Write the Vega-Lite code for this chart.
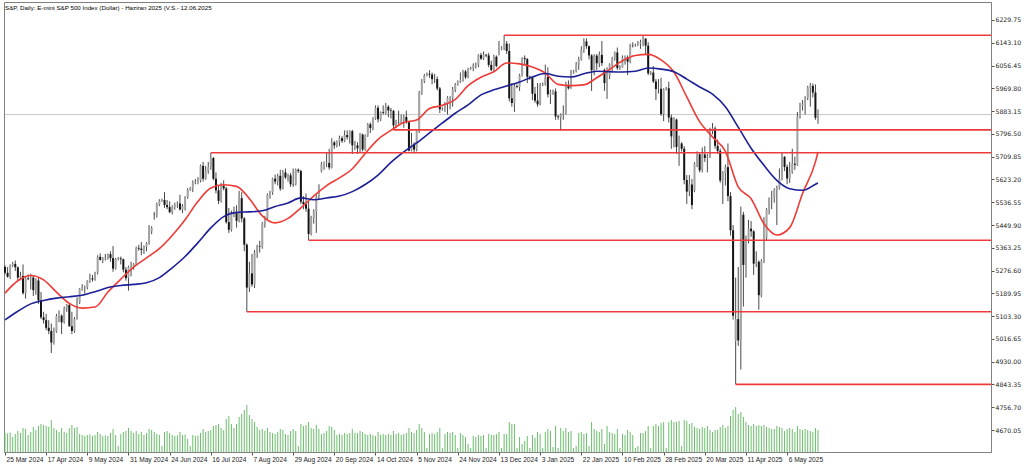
{
"$schema": "https://vega.github.io/schema/vega-lite/v6.json",
"width": 987, "height": 450,
"autosize": {"type": "none"},
"padding": {"left": 4, "top": 2, "right": 33, "bottom": 18},
"background": "#ffffff",
"config": {"view": {"stroke": "#808080", "strokeWidth": 1}, "font": "Liberation Sans"},
"title": {"text": "S&P, Daily:  E-mini S&P 500 Index (Dollar) -  Haziran 2025 (V.S.- 12.06.2025", "anchor": "start", "frame": "group", "orient": "top", "offset": -9, "dx": 1, "fontSize": 6.2, "fontWeight": "normal", "font": "Liberation Sans", "color": "#000000"},
"datasets": {
"bars": [
{"d":"2024-03-25","o":5290,"h":5297,"l":5262,"c":5268,"v":190000},
{"d":"2024-03-26","o":5268,"h":5290,"l":5250,"c":5253,"v":185000},
{"d":"2024-03-27","o":5253,"h":5300,"l":5245,"c":5297,"v":195000},
{"d":"2024-03-28","o":5297,"h":5310,"l":5290,"c":5302,"v":150000},
{"d":"2024-04-01","o":5302,"h":5315,"l":5275,"c":5289,"v":180000},
{"d":"2024-04-02","o":5289,"h":5292,"l":5238,"c":5250,"v":210000},
{"d":"2024-04-03","o":5250,"h":5272,"l":5240,"c":5256,"v":190000},
{"d":"2024-04-04","o":5256,"h":5300,"l":5185,"c":5191,"v":240000},
{"d":"2024-04-05","o":5191,"h":5256,"l":5170,"c":5247,"v":230000},
{"d":"2024-04-08","o":5247,"h":5262,"l":5240,"c":5244,"v":170000},
{"d":"2024-04-09","o":5244,"h":5265,"l":5205,"c":5250,"v":200000},
{"d":"2024-04-10","o":5250,"h":5258,"l":5180,"c":5202,"v":250000},
{"d":"2024-04-11","o":5202,"h":5247,"l":5185,"c":5239,"v":220000},
{"d":"2024-04-12","o":5239,"h":5250,"l":5150,"c":5163,"v":260000},
{"d":"2024-04-15","o":5163,"h":5195,"l":5092,"c":5099,"v":280000},
{"d":"2024-04-16","o":5099,"h":5120,"l":5075,"c":5088,"v":270000},
{"d":"2024-04-17","o":5088,"h":5112,"l":5050,"c":5059,"v":260000},
{"d":"2024-04-18","o":5059,"h":5088,"l":5035,"c":5047,"v":250000},
{"d":"2024-04-19","o":5047,"h":5075,"l":4963,"c":5003,"v":320000},
{"d":"2024-04-22","o":5003,"h":5060,"l":4995,"c":5044,"v":240000},
{"d":"2024-04-23","o":5044,"h":5112,"l":5040,"c":5104,"v":220000},
{"d":"2024-04-24","o":5104,"h":5125,"l":5080,"c":5105,"v":200000},
{"d":"2024-04-25","o":5105,"h":5110,"l":5035,"c":5080,"v":240000},
{"d":"2024-04-26","o":5080,"h":5140,"l":5075,"c":5131,"v":200000},
{"d":"2024-04-29","o":5131,"h":5150,"l":5120,"c":5146,"v":190000},
{"d":"2024-04-30","o":5146,"h":5150,"l":5063,"c":5065,"v":240000},
{"d":"2024-05-01","o":5065,"h":5120,"l":5035,"c":5047,"v":270000},
{"d":"2024-05-02","o":5047,"h":5100,"l":5040,"c":5092,"v":240000},
{"d":"2024-05-03","o":5092,"h":5175,"l":5090,"c":5156,"v":250000},
{"d":"2024-05-06","o":5156,"h":5210,"l":5150,"c":5207,"v":180000},
{"d":"2024-05-07","o":5207,"h":5225,"l":5200,"c":5212,"v":170000},
{"d":"2024-05-08","o":5212,"h":5220,"l":5190,"c":5213,"v":160000},
{"d":"2024-05-09","o":5213,"h":5240,"l":5205,"c":5238,"v":170000},
{"d":"2024-05-10","o":5238,"h":5265,"l":5230,"c":5247,"v":175000},
{"d":"2024-05-13","o":5247,"h":5260,"l":5235,"c":5243,"v":160000},
{"d":"2024-05-14","o":5243,"h":5272,"l":5238,"c":5269,"v":170000},
{"d":"2024-05-15","o":5269,"h":5335,"l":5262,"c":5329,"v":200000},
{"d":"2024-05-16","o":5329,"h":5342,"l":5315,"c":5317,"v":180000},
{"d":"2024-05-17","o":5317,"h":5328,"l":5305,"c":5323,"v":160000},
{"d":"2024-05-20","o":5323,"h":5340,"l":5315,"c":5326,"v":165000},
{"d":"2024-05-21","o":5326,"h":5342,"l":5318,"c":5339,"v":160000},
{"d":"2024-05-22","o":5339,"h":5350,"l":5310,"c":5324,"v":190000},
{"d":"2024-05-23","o":5324,"h":5370,"l":5272,"c":5284,"v":230000},
{"d":"2024-05-24","o":5284,"h":5325,"l":5280,"c":5321,"v":170000},
{"d":"2024-05-27","o":5321,"h":5328,"l":5315,"c":5323,"v":60000},
{"d":"2024-05-28","o":5323,"h":5330,"l":5300,"c":5320,"v":180000},
{"d":"2024-05-29","o":5320,"h":5322,"l":5270,"c":5280,"v":200000},
{"d":"2024-05-30","o":5280,"h":5290,"l":5238,"c":5248,"v":210000},
{"d":"2024-05-31","o":5248,"h":5295,"l":5200,"c":5290,"v":240000},
{"d":"2024-06-03","o":5290,"h":5310,"l":5255,"c":5293,"v":210000},
{"d":"2024-06-04","o":5293,"h":5305,"l":5280,"c":5301,"v":190000},
{"d":"2024-06-05","o":5301,"h":5368,"l":5298,"c":5363,"v":210000},
{"d":"2024-06-06","o":5363,"h":5375,"l":5352,"c":5360,"v":180000},
{"d":"2024-06-07","o":5360,"h":5385,"l":5335,"c":5355,"v":200000},
{"d":"2024-06-10","o":5355,"h":5372,"l":5340,"c":5367,"v":170000},
{"d":"2024-06-11","o":5367,"h":5385,"l":5350,"c":5381,"v":190000},
{"d":"2024-06-12","o":5381,"h":5450,"l":5375,"c":5426,"v":230000},
{"d":"2024-06-13","o":5426,"h":5445,"l":5415,"c":5438,"v":220000},
{"d":"2024-06-14","o":5490,"h":5500,"l":5470,"c":5489,"v":200000},
{"d":"2024-06-17","o":5489,"h":5535,"l":5478,"c":5528,"v":180000},
{"d":"2024-06-18","o":5528,"h":5548,"l":5522,"c":5542,"v":170000},
{"d":"2024-06-19","o":5542,"h":5550,"l":5538,"c":5545,"v":60000},
{"d":"2024-06-20","o":5545,"h":5575,"l":5515,"c":5526,"v":200000},
{"d":"2024-06-21","o":5526,"h":5545,"l":5510,"c":5518,"v":210000},
{"d":"2024-06-24","o":5518,"h":5540,"l":5495,"c":5499,"v":190000},
{"d":"2024-06-25","o":5499,"h":5525,"l":5490,"c":5520,"v":170000},
{"d":"2024-06-26","o":5520,"h":5535,"l":5508,"c":5528,"v":160000},
{"d":"2024-06-27","o":5528,"h":5540,"l":5515,"c":5532,"v":165000},
{"d":"2024-06-28","o":5532,"h":5565,"l":5505,"c":5509,"v":200000},
{"d":"2024-07-01","o":5509,"h":5530,"l":5495,"c":5522,"v":170000},
{"d":"2024-07-02","o":5522,"h":5560,"l":5505,"c":5556,"v":175000},
{"d":"2024-07-03","o":5556,"h":5590,"l":5550,"c":5583,"v":130000},
{"d":"2024-07-04","o":5583,"h":5595,"l":5580,"c":5590,"v":60000},
{"d":"2024-07-05","o":5590,"h":5620,"l":5575,"c":5612,"v":170000},
{"d":"2024-07-08","o":5612,"h":5625,"l":5605,"c":5615,"v":160000},
{"d":"2024-07-09","o":5615,"h":5632,"l":5605,"c":5619,"v":165000},
{"d":"2024-07-10","o":5619,"h":5680,"l":5612,"c":5675,"v":190000},
{"d":"2024-07-11","o":5675,"h":5690,"l":5615,"c":5626,"v":230000},
{"d":"2024-07-12","o":5626,"h":5675,"l":5622,"c":5656,"v":200000},
{"d":"2024-07-15","o":5656,"h":5690,"l":5645,"c":5670,"v":210000},
{"d":"2024-07-16","o":5670,"h":5725,"l":5660,"c":5705,"v":220000},
{"d":"2024-07-17","o":5705,"h":5708,"l":5620,"c":5626,"v":260000},
{"d":"2024-07-18","o":5626,"h":5650,"l":5570,"c":5582,"v":270000},
{"d":"2024-07-19","o":5582,"h":5600,"l":5530,"c":5542,"v":280000},
{"d":"2024-07-22","o":5542,"h":5610,"l":5535,"c":5599,"v":240000},
{"d":"2024-07-23","o":5599,"h":5620,"l":5582,"c":5589,"v":220000},
{"d":"2024-07-24","o":5589,"h":5595,"l":5455,"c":5461,"v":330000},
{"d":"2024-07-25","o":5461,"h":5515,"l":5420,"c":5432,"v":360000},
{"d":"2024-07-26","o":5432,"h":5505,"l":5425,"c":5492,"v":280000},
{"d":"2024-07-29","o":5492,"h":5520,"l":5480,"c":5495,"v":240000},
{"d":"2024-07-30","o":5495,"h":5525,"l":5440,"c":5466,"v":280000},
{"d":"2024-07-31","o":5466,"h":5580,"l":5460,"c":5552,"v":350000},
{"d":"2024-08-01","o":5552,"h":5575,"l":5460,"c":5475,"v":380000},
{"d":"2024-08-02","o":5475,"h":5480,"l":5350,"c":5375,"v":420000},
{"d":"2024-08-05","o":5375,"h":5380,"l":5120,"c":5212,"v":470000},
{"d":"2024-08-06","o":5212,"h":5310,"l":5195,"c":5266,"v":370000},
{"d":"2024-08-07","o":5266,"h":5340,"l":5215,"c":5224,"v":330000},
{"d":"2024-08-08","o":5224,"h":5355,"l":5210,"c":5344,"v":300000},
{"d":"2024-08-09","o":5344,"h":5375,"l":5325,"c":5368,"v":250000},
{"d":"2024-08-12","o":5368,"h":5390,"l":5345,"c":5366,"v":220000},
{"d":"2024-08-13","o":5366,"h":5462,"l":5360,"c":5456,"v":230000},
{"d":"2024-08-14","o":5456,"h":5485,"l":5440,"c":5476,"v":210000},
{"d":"2024-08-15","o":5476,"h":5570,"l":5470,"c":5564,"v":240000},
{"d":"2024-08-16","o":5564,"h":5580,"l":5550,"c":5574,"v":200000},
{"d":"2024-08-19","o":5574,"h":5630,"l":5565,"c":5626,"v":190000},
{"d":"2024-08-20","o":5626,"h":5642,"l":5605,"c":5615,"v":180000},
{"d":"2024-08-21","o":5615,"h":5645,"l":5600,"c":5637,"v":200000},
{"d":"2024-08-22","o":5637,"h":5660,"l":5580,"c":5588,"v":230000},
{"d":"2024-08-23","o":5588,"h":5660,"l":5585,"c":5650,"v":220000},
{"d":"2024-08-26","o":5650,"h":5665,"l":5625,"c":5631,"v":180000},
{"d":"2024-08-27","o":5631,"h":5645,"l":5615,"c":5639,"v":170000},
{"d":"2024-08-28","o":5639,"h":5648,"l":5595,"c":5605,"v":210000},
{"d":"2024-08-29","o":5605,"h":5665,"l":5595,"c":5604,"v":230000},
{"d":"2024-08-30","o":5604,"h":5665,"l":5600,"c":5660,"v":210000},
{"d":"2024-09-02","o":5660,"h":5665,"l":5648,"c":5655,"v":60000},
{"d":"2024-09-03","o":5655,"h":5660,"l":5530,"c":5538,"v":280000},
{"d":"2024-09-04","o":5538,"h":5560,"l":5510,"c":5529,"v":260000},
{"d":"2024-09-05","o":5529,"h":5570,"l":5500,"c":5512,"v":270000},
{"d":"2024-09-06","o":5512,"h":5540,"l":5392,"c":5416,"v":300000},
{"d":"2024-09-09","o":5416,"h":5485,"l":5410,"c":5477,"v":240000},
{"d":"2024-09-10","o":5477,"h":5510,"l":5455,"c":5502,"v":230000},
{"d":"2024-09-11","o":5502,"h":5565,"l":5420,"c":5559,"v":270000},
{"d":"2024-09-12","o":5559,"h":5605,"l":5545,"c":5601,"v":230000},
{"d":"2024-09-13","o":5655,"h":5690,"l":5650,"c":5680,"v":180000},
{"d":"2024-09-16","o":5680,"h":5692,"l":5660,"c":5685,"v":190000},
{"d":"2024-09-17","o":5685,"h":5725,"l":5670,"c":5686,"v":210000},
{"d":"2024-09-18","o":5686,"h":5740,"l":5660,"c":5669,"v":260000},
{"d":"2024-09-19","o":5669,"h":5780,"l":5665,"c":5764,"v":250000},
{"d":"2024-09-20","o":5764,"h":5770,"l":5740,"c":5753,"v":220000},
{"d":"2024-09-23","o":5753,"h":5772,"l":5745,"c":5767,"v":170000},
{"d":"2024-09-24","o":5767,"h":5790,"l":5750,"c":5780,"v":180000},
{"d":"2024-09-25","o":5780,"h":5788,"l":5762,"c":5770,"v":170000},
{"d":"2024-09-26","o":5770,"h":5810,"l":5765,"c":5792,"v":190000},
{"d":"2024-09-27","o":5792,"h":5810,"l":5775,"c":5784,"v":180000},
{"d":"2024-09-30","o":5784,"h":5810,"l":5760,"c":5807,"v":190000},
{"d":"2024-10-01","o":5807,"h":5812,"l":5720,"c":5753,"v":230000},
{"d":"2024-10-02","o":5753,"h":5770,"l":5735,"c":5753,"v":190000},
{"d":"2024-10-03","o":5753,"h":5765,"l":5720,"c":5742,"v":190000},
{"d":"2024-10-04","o":5742,"h":5800,"l":5725,"c":5794,"v":210000},
{"d":"2024-10-07","o":5794,"h":5798,"l":5730,"c":5737,"v":200000},
{"d":"2024-10-08","o":5737,"h":5795,"l":5732,"c":5791,"v":180000},
{"d":"2024-10-09","o":5791,"h":5838,"l":5785,"c":5833,"v":170000},
{"d":"2024-10-10","o":5833,"h":5840,"l":5800,"c":5819,"v":180000},
{"d":"2024-10-11","o":5819,"h":5860,"l":5810,"c":5854,"v":170000},
{"d":"2024-10-14","o":5854,"h":5905,"l":5850,"c":5896,"v":160000},
{"d":"2024-10-15","o":5896,"h":5905,"l":5840,"c":5852,"v":200000},
{"d":"2024-10-16","o":5852,"h":5882,"l":5845,"c":5879,"v":170000},
{"d":"2024-10-17","o":5879,"h":5905,"l":5870,"c":5876,"v":180000},
{"d":"2024-10-18","o":5876,"h":5914,"l":5870,"c":5900,"v":170000},
{"d":"2024-10-21","o":5900,"h":5905,"l":5860,"c":5886,"v":180000},
{"d":"2024-10-22","o":5886,"h":5895,"l":5855,"c":5884,"v":170000},
{"d":"2024-10-23","o":5884,"h":5888,"l":5812,"c":5829,"v":210000},
{"d":"2024-10-24","o":5829,"h":5850,"l":5818,"c":5840,"v":180000},
{"d":"2024-10-25","o":5840,"h":5885,"l":5832,"c":5839,"v":190000},
{"d":"2024-10-28","o":5839,"h":5870,"l":5835,"c":5852,"v":170000},
{"d":"2024-10-29","o":5852,"h":5870,"l":5820,"c":5861,"v":180000},
{"d":"2024-10-30","o":5861,"h":5885,"l":5835,"c":5841,"v":190000},
{"d":"2024-10-31","o":5841,"h":5842,"l":5730,"c":5733,"v":240000},
{"d":"2024-11-01","o":5733,"h":5800,"l":5730,"c":5756,"v":200000},
{"d":"2024-11-04","o":5756,"h":5765,"l":5722,"c":5737,"v":190000},
{"d":"2024-11-05","o":5737,"h":5810,"l":5730,"c":5807,"v":220000},
{"d":"2024-11-06","o":5807,"h":5960,"l":5800,"c":5953,"v":280000},
{"d":"2024-11-07","o":5953,"h":6005,"l":5945,"c":5997,"v":240000},
{"d":"2024-11-08","o":5997,"h":6025,"l":5990,"c":6019,"v":200000},
{"d":"2024-11-10","o":6019,"h":6030,"l":6015,"c":6025,"v":40000},
{"d":"2024-11-11","o":6025,"h":6039,"l":6010,"c":6022,"v":180000},
{"d":"2024-11-12","o":6022,"h":6030,"l":5985,"c":6005,"v":190000},
{"d":"2024-11-13","o":6005,"h":6025,"l":5990,"c":6005,"v":180000},
{"d":"2024-11-14","o":6005,"h":6015,"l":5962,"c":5969,"v":200000},
{"d":"2024-11-15","o":5969,"h":5975,"l":5876,"c":5890,"v":240000},
{"d":"2024-11-17","o":5890,"h":5898,"l":5885,"c":5892,"v":40000},
{"d":"2024-11-18","o":5892,"h":5918,"l":5880,"c":5912,"v":180000},
{"d":"2024-11-19","o":5912,"h":5940,"l":5870,"c":5934,"v":200000},
{"d":"2024-11-20","o":5934,"h":5940,"l":5890,"c":5934,"v":190000},
{"d":"2024-11-21","o":5934,"h":5975,"l":5900,"c":5965,"v":200000},
{"d":"2024-11-22","o":5965,"h":5990,"l":5955,"c":5984,"v":170000},
{"d":"2024-11-24","o":5984,"h":6000,"l":5980,"c":5995,"v":40000},
{"d":"2024-11-25","o":5995,"h":6030,"l":5990,"c":6001,"v":190000},
{"d":"2024-11-26","o":6001,"h":6040,"l":5995,"c":6034,"v":170000},
{"d":"2024-11-27","o":6034,"h":6040,"l":6005,"c":6012,"v":150000},
{"d":"2024-11-29","o":6012,"h":6048,"l":6008,"c":6044,"v":80000},
{"d":"2024-12-01","o":6044,"h":6052,"l":6040,"c":6048,"v":40000},
{"d":"2024-12-02","o":6048,"h":6065,"l":6035,"c":6057,"v":160000},
{"d":"2024-12-03","o":6057,"h":6068,"l":6045,"c":6059,"v":150000},
{"d":"2024-12-04","o":6059,"h":6100,"l":6050,"c":6096,"v":170000},
{"d":"2024-12-05","o":6096,"h":6105,"l":6078,"c":6083,"v":160000},
{"d":"2024-12-06","o":6083,"h":6110,"l":6078,"c":6098,"v":170000},
{"d":"2024-12-08","o":6098,"h":6100,"l":6088,"c":6095,"v":40000},
{"d":"2024-12-09","o":6095,"h":6105,"l":6050,"c":6059,"v":180000},
{"d":"2024-12-10","o":6059,"h":6075,"l":6035,"c":6040,"v":170000},
{"d":"2024-12-11","o":6040,"h":6098,"l":6035,"c":6090,"v":170000},
{"d":"2024-12-12","o":6090,"h":6095,"l":6050,"c":6055,"v":180000},
{"d":"2024-12-13","o":6110,"h":6150,"l":6095,"c":6120,"v":200000},
{"d":"2024-12-15","o":6120,"h":6130,"l":6115,"c":6125,"v":40000},
{"d":"2024-12-16","o":6125,"h":6172,"l":6115,"c":6140,"v":180000},
{"d":"2024-12-17","o":6140,"h":6150,"l":6100,"c":6112,"v":180000},
{"d":"2024-12-18","o":6112,"h":6140,"l":5920,"c":5932,"v":300000},
{"d":"2024-12-19","o":5932,"h":5990,"l":5900,"c":5914,"v":280000},
{"d":"2024-12-20","o":5914,"h":5990,"l":5880,"c":5978,"v":280000},
{"d":"2024-12-22","o":5978,"h":5985,"l":5970,"c":5975,"v":40000},
{"d":"2024-12-23","o":5975,"h":6025,"l":5960,"c":6019,"v":150000},
{"d":"2024-12-24","o":6019,"h":6088,"l":6015,"c":6085,"v":80000},
{"d":"2024-12-26","o":6085,"h":6095,"l":6060,"c":6081,"v":110000},
{"d":"2024-12-27","o":6081,"h":6085,"l":5990,"c":6014,"v":160000},
{"d":"2024-12-29","o":6014,"h":6018,"l":6002,"c":6010,"v":40000},
{"d":"2024-12-30","o":6010,"h":6015,"l":5925,"c":5949,"v":170000},
{"d":"2024-12-31","o":5949,"h":5975,"l":5915,"c":5923,"v":140000},
{"d":"2025-01-02","o":5923,"h":5990,"l":5900,"c":5909,"v":200000},
{"d":"2025-01-03","o":5909,"h":5990,"l":5905,"c":5982,"v":180000},
{"d":"2025-01-05","o":5982,"h":5992,"l":5978,"c":5985,"v":40000},
{"d":"2025-01-06","o":5985,"h":6060,"l":5980,"c":6013,"v":200000},
{"d":"2025-01-07","o":6013,"h":6050,"l":5935,"c":5947,"v":230000},
{"d":"2025-01-08","o":5947,"h":5965,"l":5910,"c":5955,"v":210000},
{"d":"2025-01-09","o":5955,"h":5965,"l":5945,"c":5958,"v":50000},
{"d":"2025-01-10","o":5958,"h":5970,"l":5850,"c":5863,"v":260000},
{"d":"2025-01-12","o":5863,"h":5868,"l":5850,"c":5860,"v":40000},
{"d":"2025-01-13","o":5860,"h":5875,"l":5810,"c":5870,"v":240000},
{"d":"2025-01-14","o":5870,"h":5905,"l":5850,"c":5876,"v":210000},
{"d":"2025-01-15","o":5876,"h":5995,"l":5870,"c":5983,"v":240000},
{"d":"2025-01-16","o":5983,"h":6000,"l":5965,"c":5970,"v":200000},
{"d":"2025-01-17","o":5970,"h":6040,"l":5968,"c":6029,"v":210000},
{"d":"2025-01-19","o":6029,"h":6040,"l":6025,"c":6035,"v":40000},
{"d":"2025-01-20","o":6035,"h":6070,"l":6030,"c":6060,"v":60000},
{"d":"2025-01-21","o":6060,"h":6090,"l":6040,"c":6079,"v":190000},
{"d":"2025-01-22","o":6079,"h":6130,"l":6075,"c":6116,"v":200000},
{"d":"2025-01-23","o":6116,"h":6160,"l":6105,"c":6148,"v":180000},
{"d":"2025-01-24","o":6148,"h":6160,"l":6120,"c":6130,"v":190000},
{"d":"2025-01-26","o":6130,"h":6132,"l":6080,"c":6095,"v":60000},
{"d":"2025-01-27","o":6095,"h":6100,"l":5960,"c":6039,"v":300000},
{"d":"2025-01-28","o":6039,"h":6100,"l":6020,"c":6094,"v":230000},
{"d":"2025-01-29","o":6094,"h":6100,"l":6040,"c":6065,"v":210000},
{"d":"2025-01-30","o":6065,"h":6110,"l":6050,"c":6097,"v":200000},
{"d":"2025-01-31","o":6097,"h":6150,"l":6055,"c":6066,"v":230000},
{"d":"2025-02-02","o":6040,"h":6045,"l":5960,"c":5990,"v":80000},
{"d":"2025-02-03","o":5990,"h":6050,"l":5930,"c":6018,"v":260000},
{"d":"2025-02-04","o":6018,"h":6065,"l":6005,"c":6060,"v":200000},
{"d":"2025-02-05","o":6060,"h":6090,"l":6030,"c":6084,"v":190000},
{"d":"2025-02-06","o":6084,"h":6110,"l":6075,"c":6106,"v":180000},
{"d":"2025-02-07","o":6106,"h":6125,"l":6040,"c":6047,"v":230000},
{"d":"2025-02-09","o":6047,"h":6058,"l":6040,"c":6050,"v":40000},
{"d":"2025-02-10","o":6050,"h":6095,"l":6048,"c":6086,"v":180000},
{"d":"2025-02-11","o":6086,"h":6095,"l":6060,"c":6088,"v":170000},
{"d":"2025-02-12","o":6088,"h":6095,"l":6020,"c":6071,"v":220000},
{"d":"2025-02-13","o":6071,"h":6140,"l":6065,"c":6134,"v":200000},
{"d":"2025-02-14","o":6134,"h":6145,"l":6125,"c":6133,"v":170000},
{"d":"2025-02-16","o":6133,"h":6140,"l":6128,"c":6135,"v":40000},
{"d":"2025-02-17","o":6135,"h":6150,"l":6130,"c":6140,"v":60000},
{"d":"2025-02-18","o":6140,"h":6155,"l":6120,"c":6145,"v":190000},
{"d":"2025-02-19","o":6145,"h":6169,"l":6130,"c":6159,"v":190000},
{"d":"2025-02-20","o":6159,"h":6160,"l":6100,"c":6132,"v":210000},
{"d":"2025-02-21","o":6132,"h":6145,"l":6020,"c":6027,"v":260000},
{"d":"2025-02-23","o":6027,"h":6035,"l":6020,"c":6030,"v":40000},
{"d":"2025-02-24","o":6030,"h":6055,"l":5990,"c":5996,"v":260000},
{"d":"2025-02-25","o":5996,"h":6005,"l":5925,"c":5967,"v":280000},
{"d":"2025-02-26","o":5967,"h":6005,"l":5950,"c":5968,"v":260000},
{"d":"2025-02-27","o":5968,"h":6010,"l":5865,"c":5872,"v":290000},
{"d":"2025-02-28","o":5872,"h":5970,"l":5845,"c":5966,"v":300000},
{"d":"2025-03-02","o":5966,"h":5975,"l":5962,"c":5970,"v":40000},
{"d":"2025-03-03","o":5970,"h":5995,"l":5840,"c":5859,"v":300000},
{"d":"2025-03-04","o":5859,"h":5870,"l":5740,"c":5787,"v":320000},
{"d":"2025-03-05","o":5787,"h":5860,"l":5745,"c":5851,"v":300000},
{"d":"2025-03-06","o":5851,"h":5855,"l":5720,"c":5747,"v":300000},
{"d":"2025-03-07","o":5747,"h":5790,"l":5675,"c":5777,"v":310000},
{"d":"2025-03-09","o":5760,"h":5765,"l":5730,"c":5740,"v":60000},
{"d":"2025-03-10","o":5740,"h":5750,"l":5605,"c":5621,"v":320000},
{"d":"2025-03-11","o":5621,"h":5640,"l":5530,"c":5577,"v":310000},
{"d":"2025-03-12","o":5577,"h":5640,"l":5560,"c":5604,"v":280000},
{"d":"2025-03-13","o":5604,"h":5625,"l":5510,"c":5526,"v":290000},
{"d":"2025-03-14","o":5580,"h":5690,"l":5575,"c":5684,"v":250000},
{"d":"2025-03-17","o":5684,"h":5730,"l":5670,"c":5719,"v":240000},
{"d":"2025-03-18","o":5719,"h":5722,"l":5650,"c":5658,"v":230000},
{"d":"2025-03-19","o":5658,"h":5745,"l":5650,"c":5718,"v":250000},
{"d":"2025-03-20","o":5718,"h":5750,"l":5690,"c":5705,"v":240000},
{"d":"2025-03-21","o":5705,"h":5720,"l":5650,"c":5710,"v":260000},
{"d":"2025-03-24","o":5710,"h":5820,"l":5705,"c":5808,"v":220000},
{"d":"2025-03-25","o":5808,"h":5838,"l":5795,"c":5817,"v":200000},
{"d":"2025-03-26","o":5817,"h":5825,"l":5740,"c":5751,"v":220000},
{"d":"2025-03-27","o":5751,"h":5775,"l":5720,"c":5732,"v":220000},
{"d":"2025-03-28","o":5732,"h":5740,"l":5610,"c":5619,"v":250000},
{"d":"2025-03-31","o":5619,"h":5655,"l":5530,"c":5649,"v":270000},
{"d":"2025-04-01","o":5649,"h":5680,"l":5600,"c":5670,"v":240000},
{"d":"2025-04-02","o":5670,"h":5760,"l":5540,"c":5560,"v":260000},
{"d":"2025-04-03","o":5560,"h":5575,"l":5410,"c":5430,"v":360000},
{"d":"2025-04-04","o":5430,"h":5450,"l":5090,"c":5105,"v":420000},
{"d":"2025-04-07","o":5010,"h":5250,"l":4844,"c":5092,"v":450000},
{"d":"2025-04-08","o":5092,"h":5290,"l":4990,"c":5011,"v":380000},
{"d":"2025-04-09","o":5011,"h":5520,"l":4900,"c":5489,"v":400000},
{"d":"2025-04-10","o":5489,"h":5500,"l":5140,"c":5298,"v":350000},
{"d":"2025-04-11","o":5298,"h":5410,"l":5250,"c":5393,"v":300000},
{"d":"2025-04-14","o":5393,"h":5470,"l":5380,"c":5436,"v":270000},
{"d":"2025-04-15","o":5436,"h":5465,"l":5405,"c":5426,"v":260000},
{"d":"2025-04-16","o":5426,"h":5430,"l":5260,"c":5303,"v":280000},
{"d":"2025-04-17","o":5303,"h":5350,"l":5290,"c":5310,"v":260000},
{"d":"2025-04-21","o":5310,"h":5315,"l":5128,"c":5183,"v":270000},
{"d":"2025-04-22","o":5183,"h":5320,"l":5175,"c":5313,"v":260000},
{"d":"2025-04-23","o":5313,"h":5480,"l":5305,"c":5401,"v":270000},
{"d":"2025-04-24","o":5401,"h":5515,"l":5390,"c":5510,"v":250000},
{"d":"2025-04-25","o":5510,"h":5555,"l":5490,"c":5550,"v":240000},
{"d":"2025-04-28","o":5550,"h":5580,"l":5510,"c":5553,"v":230000},
{"d":"2025-04-29","o":5553,"h":5590,"l":5535,"c":5584,"v":230000},
{"d":"2025-04-30","o":5584,"h":5600,"l":5450,"c":5592,"v":260000},
{"d":"2025-05-01","o":5592,"h":5665,"l":5585,"c":5627,"v":250000},
{"d":"2025-05-02","o":5627,"h":5725,"l":5620,"c":5709,"v":240000},
{"d":"2025-05-05","o":5709,"h":5712,"l":5655,"c":5671,"v":210000},
{"d":"2025-05-06","o":5671,"h":5680,"l":5605,"c":5627,"v":230000},
{"d":"2025-05-07","o":5627,"h":5690,"l":5610,"c":5651,"v":240000},
{"d":"2025-05-08","o":5651,"h":5740,"l":5645,"c":5683,"v":230000},
{"d":"2025-05-09","o":5683,"h":5710,"l":5660,"c":5679,"v":200000},
{"d":"2025-05-12","o":5679,"h":5880,"l":5675,"c":5862,"v":260000},
{"d":"2025-05-13","o":5862,"h":5915,"l":5855,"c":5903,"v":230000},
{"d":"2025-05-14","o":5903,"h":5925,"l":5885,"c":5909,"v":220000},
{"d":"2025-05-15","o":5909,"h":5940,"l":5870,"c":5933,"v":230000},
{"d":"2025-05-16","o":5933,"h":5980,"l":5925,"c":5974,"v":220000},
{"d":"2025-05-19","o":5974,"h":5990,"l":5900,"c":5979,"v":210000},
{"d":"2025-05-20","o":5979,"h":5988,"l":5935,"c":5954,"v":200000},
{"d":"2025-05-21","o":5954,"h":5985,"l":5850,"c":5858,"v":240000},
{"d":"2025-05-22","o":5858,"h":5890,"l":5835,"c":5870,"v":220000}
],
"ma": [
{"d":"2024-03-25","fast":5191,"slow":5089},
{"d":"2024-04-02","fast":5238,"slow":5122},
{"d":"2024-04-09","fast":5258,"slow":5150},
{"d":"2024-04-16","fast":5241,"slow":5163},
{"d":"2024-04-23","fast":5195,"slow":5172},
{"d":"2024-04-30","fast":5152,"slow":5177},
{"d":"2024-05-07","fast":5134,"slow":5183},
{"d":"2024-05-14","fast":5138,"slow":5196},
{"d":"2024-05-21","fast":5195,"slow":5212},
{"d":"2024-05-28","fast":5244,"slow":5220},
{"d":"2024-06-04","fast":5290,"slow":5224},
{"d":"2024-06-11","fast":5325,"slow":5230},
{"d":"2024-06-18","fast":5360,"slow":5250},
{"d":"2024-06-25","fast":5410,"slow":5287},
{"d":"2024-07-02","fast":5470,"slow":5330},
{"d":"2024-07-09","fast":5540,"slow":5383},
{"d":"2024-07-16","fast":5591,"slow":5439},
{"d":"2024-07-23","fast":5603,"slow":5482},
{"d":"2024-07-30","fast":5597,"slow":5498},
{"d":"2024-08-06","fast":5550,"slow":5500},
{"d":"2024-08-13","fast":5485,"slow":5504},
{"d":"2024-08-20","fast":5458,"slow":5520},
{"d":"2024-08-27","fast":5475,"slow":5534},
{"d":"2024-09-03","fast":5515,"slow":5553},
{"d":"2024-09-10","fast":5560,"slow":5546},
{"d":"2024-09-17","fast":5600,"slow":5553},
{"d":"2024-09-24","fast":5629,"slow":5560},
{"d":"2024-10-01","fast":5664,"slow":5577},
{"d":"2024-10-08","fast":5722,"slow":5604},
{"d":"2024-10-15","fast":5776,"slow":5640},
{"d":"2024-10-22","fast":5810,"slow":5688},
{"d":"2024-10-29","fast":5840,"slow":5728},
{"d":"2024-11-05","fast":5849,"slow":5762},
{"d":"2024-11-11","fast":5893,"slow":5800},
{"d":"2024-11-17","fast":5905,"slow":5838},
{"d":"2024-11-22","fast":5928,"slow":5875},
{"d":"2024-11-29","fast":5980,"slow":5907},
{"d":"2024-12-05","fast":6012,"slow":5945},
{"d":"2024-12-11","fast":6033,"slow":5964},
{"d":"2024-12-17","fast":6066,"slow":5979},
{"d":"2024-12-23","fast":6063,"slow":5994},
{"d":"2024-12-30","fast":6051,"slow":6013},
{"d":"2025-01-06","fast":6028,"slow":6026},
{"d":"2025-01-12","fast":5985,"slow":6016},
{"d":"2025-01-17","fast":5980,"slow":6013},
{"d":"2025-01-23","fast":5983,"slow":6025},
{"d":"2025-01-29","fast":6010,"slow":6035},
{"d":"2025-02-04","fast":6042,"slow":6033},
{"d":"2025-02-10","fast":6075,"slow":6032},
{"d":"2025-02-16","fast":6095,"slow":6035},
{"d":"2025-02-21","fast":6099,"slow":6047},
{"d":"2025-02-27","fast":6078,"slow":6043},
{"d":"2025-03-05","fast":6032,"slow":6033},
{"d":"2025-03-11","fast":5937,"slow":6005},
{"d":"2025-03-18","fast":5843,"slow":5975},
{"d":"2025-03-25","fast":5785,"slow":5948},
{"d":"2025-04-01","fast":5730,"slow":5900},
{"d":"2025-04-08","fast":5595,"slow":5822},
{"d":"2025-04-15","fast":5550,"slow":5742},
{"d":"2025-04-23","fast":5455,"slow":5677},
{"d":"2025-04-30","fast":5412,"slow":5620},
{"d":"2025-05-07","fast":5440,"slow":5588},
{"d":"2025-05-14","fast":5570,"slow":5582},
{"d":"2025-05-21","fast":5690,"slow":5605},
{"d":"2025-05-22","fast":5728,"slow":5610}
],
"levels": [
{"d":"2024-07-16","level":5725},
{"d":"2024-08-05","level":5120},
{"d":"2024-09-06","level":5392},
{"d":"2024-10-23","level":5812},
{"d":"2024-12-16","level":6172},
{"d":"2025-04-07","level":4844}
],
"last": [{"d":"2024-03-25","price":5870}]
},
"encoding": {
  "x": {"field": "d", "type": "ordinal", "scale": {"type": "point", "range": [1, 814], "padding": 0},
        "axis": {"values": ["2024-03-25","2024-04-17","2024-05-09","2024-05-31","2024-06-24","2024-07-16","2024-08-07","2024-08-29","2024-09-20","2024-10-14","2024-11-05","2024-11-24","2024-12-13","2025-01-03","2025-01-22","2025-02-10","2025-02-28","2025-03-20","2025-04-11","2025-05-06"],
                 "labelExpr": "utcFormat(toDate(datum.value), '%-d %b %Y')", "title": null, "labelAngle": 0, "labelAlign": "left", "labelBaseline": "top", "labelOffset": 1,
                 "labelFont": "Liberation Sans", "labelFontSize": 6.6, "labelColor": "#222222", "tickSize": 3, "tickColor": "#555555", "labelPadding": 1, "domainColor": "#808080", "labelOverlap": false, "grid": false}}
},
"layer": [
{"data": {"name": "bars"}, "mark": {"type": "bar", "width": 1, "color": "#6cbd6c"},
 "encoding": {
  "y": {"field": "v", "type": "quantitative", "scale": {"domain": [0, 4500000], "nice": false}, "axis": null}}},
{"data": {"name": "last"}, "mark": {"type": "rule", "color": "#c8c8c8", "strokeWidth": 1},
 "encoding": {
  "x2": {"value": "width"},
  "y": {"field": "price", "type": "quantitative", "scale": {"domain": [4586.6, 6298.2], "nice": false, "zero": false}, "axis": null}}},
{"data": {"name": "bars"}, "mark": {"type": "rule", "color": "#4a4a4a", "strokeWidth": 1},
 "encoding": {
  "y": {"field": "l", "type": "quantitative", "scale": {"domain": [4586.6, 6298.2], "nice": false, "zero": false},
        "axis": {"orient": "right", "values": [4670.05,4756.7,4843.35,4930,5016.65,5103.3,5189.95,5276.6,5363.25,5449.9,5536.55,5623.2,5709.85,5796.5,5883.15,5969.8,6056.45,6143.1,6229.75],
                 "format": ".2f", "title": null, "grid": false, "labelFont": "DejaVu Sans", "labelFontSize": 6.2, "labelColor": "#222222", "tickSize": 3, "tickColor": "#555555", "labelPadding": 1, "domainColor": "#808080", "labelOverlap": false}},
  "y2": {"field": "h"}}},
{"data": {"name": "bars"}, "mark": {"type": "bar", "width": 2},
 "encoding": {
  "y": {"field": "o", "type": "quantitative", "scale": {"domain": [4586.6, 6298.2], "nice": false, "zero": false}, "axis": null},
  "y2": {"field": "c"},
  "color": {"condition": {"test": "datum.c >= datum.o", "value": "#a3a3a3"}, "value": "#151515"}}},
{"data": {"name": "ma"}, "mark": {"type": "line", "color": "#ef3b36", "strokeWidth": 1.6, "interpolate": "monotone"},
 "encoding": {
  "y": {"field": "fast", "type": "quantitative", "scale": {"domain": [4586.6, 6298.2], "nice": false, "zero": false}, "axis": null}}},
{"data": {"name": "ma"}, "mark": {"type": "line", "color": "#1c1f96", "strokeWidth": 1.6, "interpolate": "monotone"},
 "encoding": {
  "y": {"field": "slow", "type": "quantitative", "scale": {"domain": [4586.6, 6298.2], "nice": false, "zero": false}, "axis": null}}},
{"data": {"name": "levels"}, "mark": {"type": "rule", "color": "#ee3a3a", "strokeWidth": 1.6},
 "encoding": {
  "x2": {"value": "width"},
  "y": {"field": "level", "type": "quantitative", "scale": {"domain": [4586.6, 6298.2], "nice": false, "zero": false}, "axis": null}}}
],
"resolve": {"scale": {"y": "independent"}}
}
